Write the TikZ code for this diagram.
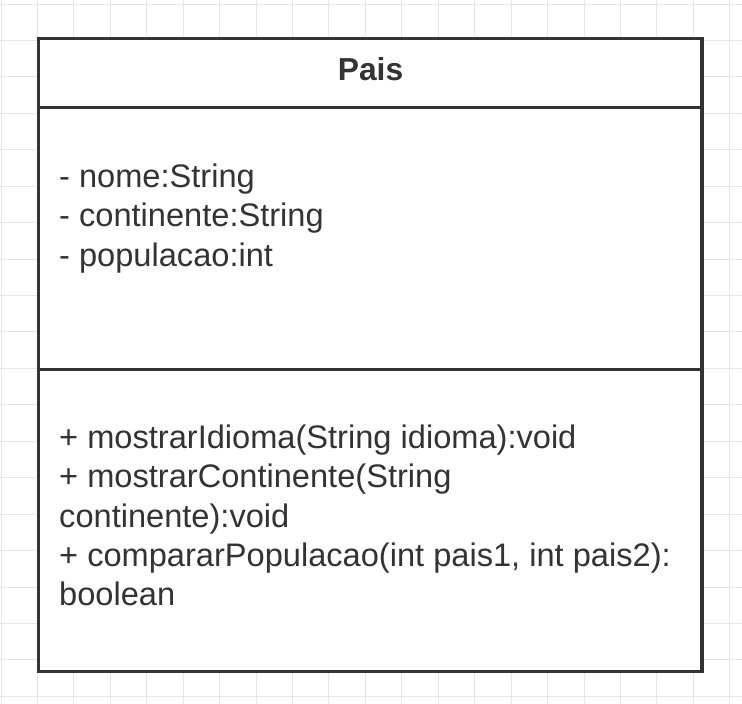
\documentclass[tikz,border=0pt]{standalone}
\usepackage{fontspec}
\setmainfont{Liberation Sans}
\definecolor{ink}{HTML}{333333}
\definecolor{gridc}{HTML}{E6E6E6}
\begin{document}
\begin{tikzpicture}[x=1pt,y=-1pt,
  txt/.style={anchor=base west,inner sep=0pt,text=ink,font=\fontsize{32.6}{39}\selectfont},
  ttl/.style={anchor=base,inner sep=0pt,text=ink,font=\fontsize{31.8}{39}\selectfont\bfseries},
  boxline/.style={draw=ink,line width=3.3pt}]
\useasboundingbox (0,0) rectangle (742,704);
\fill[white] (0,0) rectangle (742,704);
\foreach \k in {0,...,20} {\draw[gridc,line width=1pt] ({1+36.44*\k},0) -- ({1+36.44*\k},704);}
\foreach \k in {0,...,19} {\draw[gridc,line width=1pt] (0,{4+36.44*\k}) -- (742,{4+36.44*\k});}
\coordinate (tl) at (38.5,38.5);
\coordinate (br) at (702,671.5);
\fill[white] (tl) rectangle (br);
\coordinate (h1l) at (38.5,107.5); \coordinate (h1r) at (702,107.5);
\coordinate (h2l) at (38.5,369.5); \coordinate (h2r) at (702,369.5);
\draw[boxline] (h1l) -- (h1r);
\draw[boxline] (h2l) -- (h2r);
\draw[boxline] (tl) rectangle (br);
\node[ttl] (title) at (370.5,80) {Pais};
\node[txt] (a1) at (59,187) {- nome:String};
\node[txt] (a2) at (59,226.5) {- continente:String};
\node[txt] (a3) at (59,266) {- populacao:int};
\node[txt] (m1) at (59,448) {+ mostrarIdioma(String idioma):void};
\node[txt] (m2) at (59,487.5) {+ mostrarContinente(String};
\node[txt] (m3) at (59,527) {continente):void};
\node[txt] (m4) at (59,566) {+ compararPopulacao(int pais1, int pais2):};
\node[txt] (m5) at (59,605) {boolean};
\end{tikzpicture}
\end{document}
